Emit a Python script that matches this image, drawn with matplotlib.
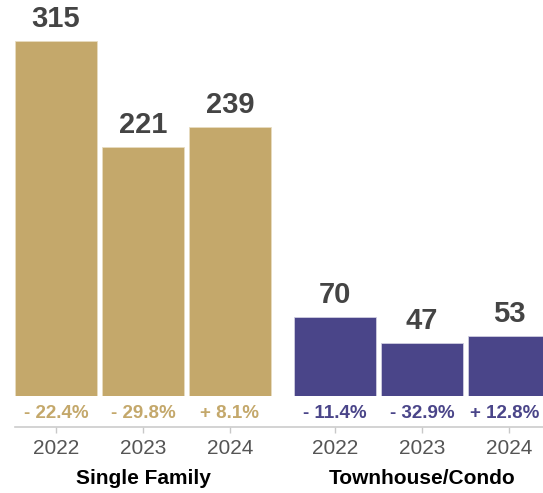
import matplotlib.pyplot as plt

plt.rcParams['font.family'] = ['Liberation Sans', 'DejaVu Sans']

# Sales by property type, three years each
groups = ['Single Family', 'Townhouse/Condo']
years = ['2022', '2023', '2024']
single_family = [315, 221, 239]
townhouse = [70, 47, 53]
sf_change = ['- 22.4%', '- 29.8%', '+ 8.1%']
th_change = ['- 11.4%', '- 32.9%', '+ 12.8%']

gold = '#c4a86b'
purple = '#4a4589'

fig = plt.figure(figsize=(5.43, 4.93), dpi=100)
ax = fig.add_axes([15 / 543, 97 / 493, 528 / 543, 396 / 493])

group_gap = 1.207
x_sf = [0, 1, 2]
x_th = [2 + group_gap + i for i in range(3)]
width = 0.943

ax.bar(x_sf, single_family, width=width, color=gold, edgecolor='#e8dcc0', linewidth=0.6)
ax.bar(x_th, townhouse, width=width, color=purple, edgecolor='#d0cee0', linewidth=0.6)

ax.set_xlim(-0.471, 5.598)
ax.set_ylim(0, 351.4)

for xs, vals, changes, col in [(x_sf, single_family, sf_change, gold),
                               (x_th, townhouse, th_change, purple)]:
    for x, v, c in zip(xs, vals, changes):
        ax.annotate(str(v), (x, v), xytext=(0, 14), textcoords='offset pixels',
                    ha='center', va='baseline', fontsize=21, fontweight='bold',
                    color='#444444')
        # keep the last change label inside the figure edge
        dx = -4 if x == x_th[-1] else 0
        ax.annotate(c, (x, 0), xytext=(dx, -17), textcoords='offset pixels',
                    ha='center', va='center', fontsize=13.5, fontweight='bold',
                    color=col, annotation_clip=False)

for xc, name in zip([x_sf[1], x_th[1]], groups):
    ax.annotate(name, (xc, 0), xytext=(0, -82), textcoords='offset pixels',
                ha='center', va='center', fontsize=15, fontweight='bold',
                color='black', annotation_clip=False)

ax.set_xticks(x_sf + x_th)
ax.set_xticklabels(years * 2)
ax.tick_params(axis='x', length=4, width=1, color='#c8c8c8', pad=5,
               labelsize=15, labelcolor='#555555')
ax.set_yticks([])

for side in ['top', 'right', 'left']:
    ax.spines[side].set_visible(False)
ax.spines['bottom'].set_position(('outward', 22.3))
ax.spines['bottom'].set_color('#cccccc')
ax.spines['bottom'].set_linewidth(1.2)

fig.savefig('out.png', dpi=100)
